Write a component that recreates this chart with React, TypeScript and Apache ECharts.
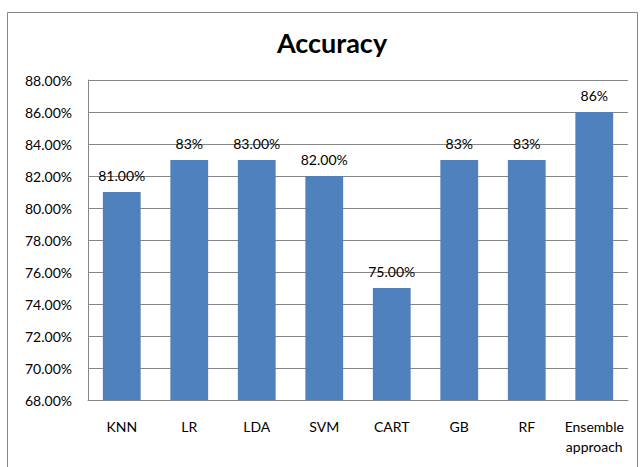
import React, { useEffect, useRef } from "react";
import * as echarts from "echarts";

const categories = ["KNN", "LR", "LDA", "SVM", "CART", "GB", "RF", "Ensemble\napproach"];
const accuracyValues = [81, 83, 83, 82, 75, 83, 83, 86];
const valueLabels = ["81.00%", "83%", "83.00%", "82.00%", "75.00%", "83%", "83%", "86%"];

export default function App() {
  const ref = useRef<HTMLDivElement>(null);
  useEffect(() => {
    if (!ref.current) return;
    const chart = echarts.init(ref.current, null, { renderer: "svg" });
    const font = "Lato, 'Open Sans', sans-serif";
    chart.setOption({
      animation: false,
      backgroundColor: "#ffffff",
      title: {
        text: "Accuracy",
        left: 327,
        textAlign: "center",
        top: 24,
        textStyle: { fontFamily: font, fontSize: 27, fontWeight: "bold", color: "#000" },
      },
      graphic: [
        {
          type: "rect",
          shape: { x: 7.5, y: 12.5, width: 630, height: 480 },
          style: { fill: "none", stroke: "#868686", lineWidth: 1 },
          silent: true,
        },
      ],
      grid: { left: 88, right: 12, top: 80, bottom: 67, containLabel: false },
      xAxis: {
        type: "category",
        data: categories,
        axisLine: { lineStyle: { color: "#868686" } },
        axisTick: { show: false },
        axisLabel: {
          color: "#000",
          fontFamily: font,
          fontSize: 14,
          margin: 16,
          lineHeight: 20,
          interval: 0,
        },
      },
      yAxis: {
        type: "value",
        min: 68,
        max: 88,
        interval: 2,
        axisLine: { show: true, lineStyle: { color: "#868686" } },
        axisTick: { show: false },
        splitLine: { lineStyle: { color: "#868686" } },
        axisLabel: {
          color: "#000",
          fontFamily: font,
          fontSize: 14,
          margin: 16,
          formatter: (v: number) => v.toFixed(2) + "%",
        },
      },
      series: [
        {
          type: "bar",
          data: accuracyValues,
          barWidth: "56%",
          itemStyle: { color: "#4F81BD" },
          label: {
            show: true,
            position: "top",
            distance: 10,
            color: "#000",
            fontFamily: font,
            fontSize: 14,
            formatter: (p: any) => valueLabels[p.dataIndex],
          },
        },
      ],
    });
    return () => chart.dispose();
  }, []);
  return (
    <div
      ref={ref}
      style={{ position: "fixed", left: 0, top: 0, width: 640, height: 467 }}
    />
  );
}
